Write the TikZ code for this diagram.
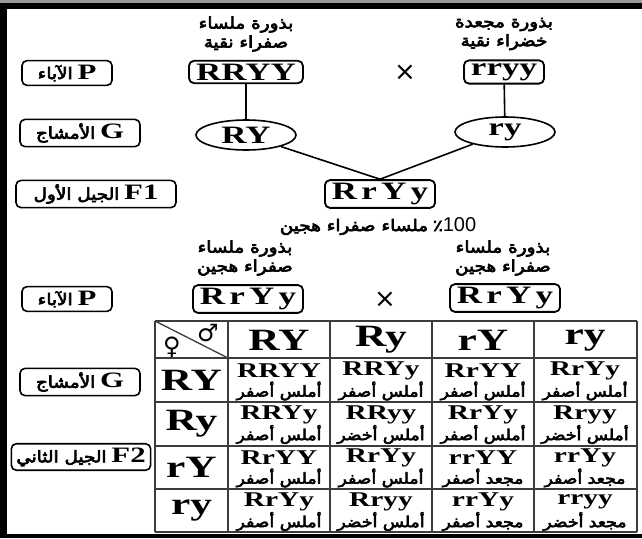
\documentclass[tikz,border=0pt]{standalone}
\usepackage{fontspec}
\usetikzlibrary{shapes.geometric}
\TeXXeTstate=1
\newfontfamily\arabicfont[Script=Arabic,FakeBold=4,FakeStretch=1.15]{DejaVu Sans}
\newfontfamily\genofont[FakeStretch=1.4]{Liberation Serif}
\newfontfamily\symfont{DejaVu Sans}
\newfontfamily\numfont{Liberation Sans}
\newcommand{\ar}[1]{{\arabicfont\beginR #1\endR}}
\newcommand{\phSmYe}{\ar{أملس أصفر}}
\newcommand{\phSmGr}{\ar{أملس أخضر}}
\newcommand{\phWrYe}{\ar{مجعد أصفر}}
\newcommand{\phWrGr}{\ar{مجعد أخضر}}
\definecolor{CrossInk}{HTML}{000000}
\definecolor{FrameGray}{HTML}{9A9A9A}
\definecolor{GridInk}{HTML}{3C3C3C}
\tikzset{
  every node/.style={text=CrossInk},
  tag/.style={draw=CrossInk, line width=1.6pt, rounded corners=5pt, inner xsep=5pt, inner ysep=4pt, font=\fontsize{16}{16}\selectfont},
  parent/.style={draw=CrossInk, line width=1.8pt, rounded corners=5pt, inner xsep=7pt, inner ysep=3pt, font=\genofont\bfseries\fontsize{25}{25}\selectfont},
  gamete/.style={ellipse, draw=CrossInk, line width=1.6pt, minimum width=100pt, minimum height=30pt, inner sep=0pt, font=\genofont\bfseries\fontsize{25}{25}\selectfont},
  caption/.style={align=center, font=\fontsize{16}{19}\selectfont},
  times/.style={font=\symfont\fontsize{26}{26}\selectfont},
  link/.style={draw=CrossInk, line width=1.6pt},
  gridline/.style={draw=GridInk, line width=1.3pt},
  allele/.style={font=\genofont\bfseries\fontsize{31}{31}\selectfont},
  geno/.style={font=\genofont\bfseries\fontsize{21}{21}\selectfont, inner sep=0pt},
  pheno/.style={font=\fontsize{15}{15}\selectfont, inner sep=0pt},
  sex/.style={font=\symfont\bfseries\fontsize{24}{24}\selectfont, inner sep=0pt},
}
\newcommand{\tagP}{\genofont\bfseries\fontsize{22}{22}\selectfont}

\begin{document}
\begin{tikzpicture}[x=1pt,y=-1pt]
  \useasboundingbox (0,0) rectangle (642,538);
  % Page frame
  \fill[FrameGray] (0,0) rectangle (642,3);
  \fill[CrossInk] (0,3) rectangle (642,9);
  \fill[CrossInk] (0,3) rectangle (7,538);
  \fill[CrossInk] (0,534) rectangle (642,538);

  % Generation tags on the left
  \node[tag, minimum width=90pt] (tagP1) at (67,73) {\ar{الآباء}\ {\tagP P}};
  \node[tag, minimum width=120pt] (tagG1) at (80,133) {\ar{الأمشاج}\ {\tagP G}};
  \node[tag, minimum width=160pt] (tagF1) at (96,194) {\ar{الجيل الأول}\ {\tagP F1}};
  \node[tag, minimum width=90pt] (tagP2) at (67,299) {\ar{الآباء}\ {\tagP P}};
  \node[tag, minimum width=120pt] (tagG2) at (80,382) {\ar{الأمشاج}\ {\tagP G}};
  \node[tag] (tagF2) at (81,457) {\ar{الجيل الثاني}\ {\tagP F2}};

  % First cross: pure parents
  \node[caption] (descA) at (246,34) {\ar{بذورة ملساء}\\\ar{صفراء نقية}};
  \node[caption] (descB) at (504,34) {\ar{بذورة مجعدة}\\\ar{خضراء نقية}};
  \node[parent] (pA) at (246,72) {RRYY};
  \node[parent] (pB) at (504,72) {rryy};
  \node[times] (cross1) at (405,73) {×};

  % Gametes and F1
  \node[gamete] (gA) at (246,135) {RY};
  \node[gamete] (gB) at (505,132) {ry};
  \node[parent] (fone) at (380,194) {R\,r\,Y\,y};
  \draw[link] (pA) -- (gA);
  \draw[link] (pB) -- (gB);
  \draw[link] (gA) -- (fone.north);
  \draw[link] (gB) -- (fone.north);
  \node[font=\fontsize{16}{16}\selectfont] (ratio) at (378,226)
    {\ar{ملساء صفراء هجين}\ {\arabicfont ٪}{\numfont\fontsize{20}{20}\selectfont 100}};

  % Second cross: hybrid parents
  \node[caption] (descC) at (245,258) {\ar{بذورة ملساء}\\\ar{صفراء هجين}};
  \node[caption] (descD) at (503,258) {\ar{بذورة ملساء}\\\ar{صفراء هجين}};
  \node[parent] (pC) at (248,299) {R\,r\,Y\,y};
  \node[parent] (pD) at (505,298) {R\,r\,Y\,y};
  \node[times] (cross2) at (385,300) {×};

  % Punnett square grid
  \foreach \y in {321,358,402,446,489,532} \draw[gridline] (155,\y) -- (637,\y);
  \foreach \x in {155,228,330,432,534,637} \draw[gridline] (\x,321) -- (\x,532);
  \coordinate (cornerTL) at (155,321);
  \coordinate (cornerBR) at (228,358);
  \draw[gridline] (cornerTL) -- (cornerBR);
  \node[sex] (male) at (208,333) {♂};
  \node[sex] (female) at (172,347) {♀};

  % Gamete headers
  \foreach \al [count=\cl from 0] in {RY,Ry,rY,ry} {
    \node[allele] (colh\cl) at ({279+102*\cl},340) {\al};
    \node[allele] (rowh\cl) at (191.5,{380+43.5*\cl}) {\al};
  }

  % Offspring cells
  \foreach \g/\ph [count=\k from 0] in {RRYY/\phSmYe, RRYy/\phSmYe, RrYY/\phSmYe, RrYy/\phSmYe,
      RRYy/\phSmYe, RRyy/\phSmGr, RrYy/\phSmYe, Rryy/\phSmGr,
      RrYY/\phSmYe, RrYy/\phSmYe, rrYY/\phWrYe, rrYy/\phWrYe,
      RrYy/\phSmYe, Rryy/\phSmGr, rrYy/\phWrYe, rryy/\phWrGr} {
    \pgfmathtruncatemacro{\rw}{div(\k,4)}
    \pgfmathtruncatemacro{\cl}{mod(\k,4)}
    \node[geno] (g\rw\cl) at ({279+102*\cl},{380+43.5*\rw-9}) {\g};
    \node[pheno] (ph\rw\cl) at ({279+102*\cl},{380+43.5*\rw+11}) {\ph};
  }
\end{tikzpicture}
\end{document}
